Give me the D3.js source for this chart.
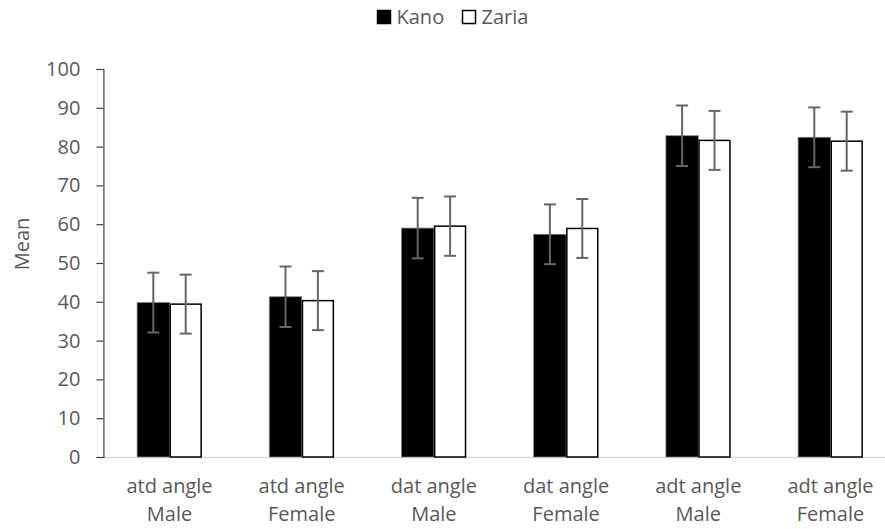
<!DOCTYPE html>
<html>
<head>
<meta charset="utf-8">
<script src="https://cdn.jsdelivr.net/npm/d3@7"></script>
<style>
    body { margin: 0; background: #fff; }
    svg { display: block; font-family: "Open Sans", sans-serif; }
</style>
</head>
<body>
<svg id="chart" width="885" height="529"></svg>
<script>
const categories = [
    ["atd angle", "Male"],
    ["atd angle", "Female"],
    ["dat angle", "Male"],
    ["dat angle", "Female"],
    ["adt angle", "Male"],
    ["adt angle", "Female"]
];
const seriesNames = ["Kano", "Zaria"];
const kano = [39.8, 41.3, 59.0, 57.4, 82.8, 82.4];
const zaria = [39.4, 40.3, 59.5, 58.9, 81.6, 81.4];
const kanoErr = [7.7, 7.8, 7.8, 7.7, 7.8, 7.7];
const zariaErr = [7.6, 7.6, 7.65, 7.6, 7.6, 7.6];
const yTicks = [0, 10, 20, 30, 40, 50, 60, 70, 80, 90, 100];

const svg = d3.select("#chart");
const textColor = "#595959";
const fontSize = 20;

// plot area runs past the right edge of the picture, like the original crop
const plotLeft = 103.4, plotRight = 896.6, plotTop = 69, plotBottom = 457;

const x = d3.scaleBand()
    .domain(d3.range(categories.length))
    .range([plotLeft, plotRight])
    .paddingInner(0.51)
    .paddingOuter(0.255);

const xInner = d3.scaleBand()
    .domain(seriesNames)
    .range([0, x.bandwidth()]);

const y = d3.scaleLinear()
    .domain([0, 100])
    .range([plotBottom, plotTop]);

const rows = categories.map((c, i) => ({
    i: i,
    values: [
        { name: "Kano", v: kano[i], e: kanoErr[i] },
        { name: "Zaria", v: zaria[i], e: zariaErr[i] }
    ]
}));

// x axis line (light grey)
svg.append("line")
    .attr("x1", plotLeft).attr("x2", 885)
    .attr("y1", plotBottom + 0.5).attr("y2", plotBottom + 0.5)
    .attr("stroke", "#d9d9d9")
    .attr("stroke-width", 1.5);

// bars
const groups = svg.append("g")
    .selectAll("g")
    .data(rows)
    .enter().append("g")
    .attr("transform", d => `translate(${x(d.i)},0)`);

groups.selectAll("rect")
    .data(d => d.values)
    .enter().append("rect")
    .attr("x", d => xInner(d.name) + (d.name === "Zaria" ? 0.75 : 0))
    .attr("y", d => y(d.v))
    .attr("width", d => xInner.bandwidth() - (d.name === "Zaria" ? 1.5 : 0))
    .attr("height", d => y(0) - y(d.v))
    .attr("fill", d => d.name === "Kano" ? "#000" : "#fff")
    .attr("stroke", d => d.name === "Kano" ? "#7f7f7f" : "#000")
    .attr("stroke-width", d => d.name === "Kano" ? 0.75 : 1.5);

// error bars
const err = groups.selectAll("g.err")
    .data(d => d.values)
    .enter().append("g")
    .attr("class", "err")
    .attr("stroke", "#666")
    .attr("stroke-width", 2);

err.append("line")
    .attr("x1", d => xInner(d.name) + xInner.bandwidth() / 2)
    .attr("x2", d => xInner(d.name) + xInner.bandwidth() / 2)
    .attr("y1", d => y(d.v + d.e))
    .attr("y2", d => y(d.v - d.e));

err.selectAll("line.cap")
    .data(d => [d.v + d.e, d.v - d.e].map(t => ({ name: d.name, t: t })))
    .enter().append("line")
    .attr("class", "cap")
    .attr("x1", d => xInner(d.name) + xInner.bandwidth() / 2 - 6)
    .attr("x2", d => xInner(d.name) + xInner.bandwidth() / 2 + 6)
    .attr("y1", d => y(d.t))
    .attr("y2", d => y(d.t));

// y axis
const yAxis = svg.append("g")
    .attr("transform", `translate(${plotLeft},0)`)
    .call(d3.axisLeft(y).tickValues(yTicks).tickSize(7).tickPadding(16));
yAxis.select(".domain").attr("stroke", "#404040").attr("stroke-width", 1.2);
yAxis.selectAll(".tick line").attr("stroke", "#404040").attr("stroke-width", 1.2);
yAxis.selectAll(".tick text")
    .attr("fill", textColor)
    .attr("font-size", fontSize)
    .attr("font-family", "'Open Sans', sans-serif");

// x labels
const xLab = svg.append("g")
    .selectAll("text")
    .data(categories)
    .enter().append("text")
    .attr("x", (d, i) => x(i) + x.bandwidth() / 2)
    .attr("y", 493)
    .attr("text-anchor", "middle")
    .attr("fill", textColor)
    .attr("font-size", fontSize);
xLab.append("tspan").attr("x", (d, i) => x(i) + x.bandwidth() / 2).text(d => d[0]);
xLab.append("tspan").attr("x", (d, i) => x(i) + x.bandwidth() / 2).attr("dy", 27.5).text(d => d[1]);

// y title
svg.append("text")
    .attr("transform", "translate(29,244) rotate(-90)")
    .attr("text-anchor", "middle")
    .attr("fill", textColor)
    .attr("font-size", fontSize)
    .text("Mean");

// legend
const legend = svg.append("g");
const legendItems = [
    { name: "Kano", x: 377.5, fill: "#000", stroke: "#000" },
    { name: "Zaria", x: 462.5, fill: "#fff", stroke: "#000" }
];
legendItems.forEach(l => {
    legend.append("rect")
        .attr("x", l.x).attr("y", 10.5)
        .attr("width", 13).attr("height", 13)
        .attr("fill", l.fill)
        .attr("stroke", l.stroke)
        .attr("stroke-width", 1.5);
    legend.append("text")
        .attr("x", l.x + 19).attr("y", 24)
        .attr("fill", textColor)
        .attr("font-size", fontSize)
        .text(l.name);
});
</script>
</body>
</html>
